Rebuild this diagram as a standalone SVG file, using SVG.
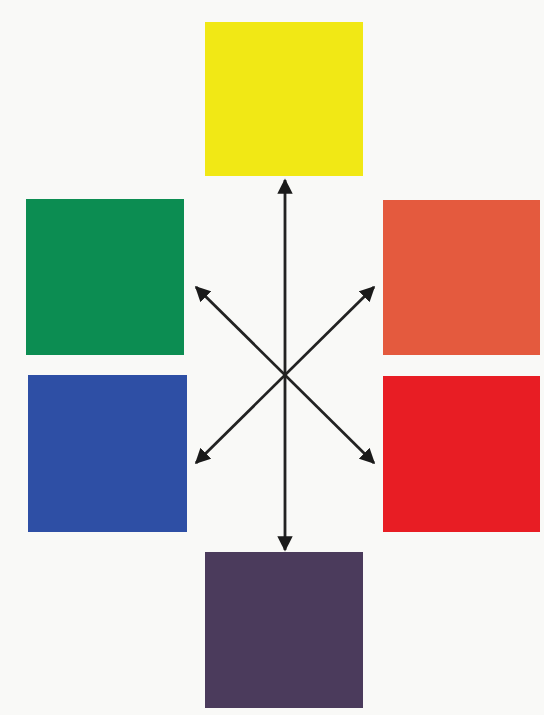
<svg xmlns="http://www.w3.org/2000/svg" width="544" height="715" viewBox="0 0 544 715">
<style>
.sq{stroke:none}
.ar{stroke:#222;stroke-width:2.8;fill:none;marker-start:url(#ah);marker-end:url(#ah)}
</style>
<defs>
<marker id="ah" viewBox="0 0 10 10" refX="9" refY="5" markerWidth="5.5" markerHeight="5.5" orient="auto-start-reverse" markerUnits="strokeWidth">
<path d="M0,0 L10,5 L0,10 z" fill="#1a1a1a"/>
</marker>
</defs>
<rect width="544" height="715" fill="#f9f9f7"/>
<g id="yellow"><rect class="sq" x="205" y="22" width="158" height="154" fill="#f1e815"/></g>
<g id="green"><rect class="sq" x="26" y="199" width="158" height="156" fill="#0c8d52"/></g>
<g id="orange"><rect class="sq" x="383" y="200" width="157" height="155" fill="#e45a3e"/></g>
<g id="blue"><rect class="sq" x="28" y="375" width="159" height="157" fill="#2e4fa5"/></g>
<g id="red"><rect class="sq" x="383" y="376" width="157" height="156" fill="#e81d24"/></g>
<g id="purple"><rect class="sq" x="205" y="552" width="158" height="156" fill="#4b3b5c"/></g>
<g id="connectors">
<line class="ar" x1="285" y1="180" x2="285" y2="550"/>
<line class="ar" x1="196" y1="287" x2="374" y2="463"/>
<line class="ar" x1="374" y1="287" x2="196" y2="463"/>
</g>
</svg>
